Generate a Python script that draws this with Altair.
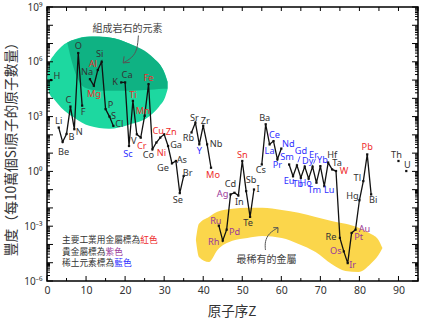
import altair as alt
import pandas as pd

# ---------------- data ----------------
atomic_number = [1, 3, 4, 5, 6, 7, 8, 9, 11, 12, 13, 14, 15, 16, 17, 19, 20, 21, 22, 23,
                 24, 25, 26, 27, 28, 29, 30, 31, 32, 33, 34, 35, 37, 38, 39, 40, 41, 42,
                 44, 45, 46, 47, 48, 49, 50, 51, 52, 53, 55, 56, 57, 58, 59, 60, 62, 63,
                 64, 65, 66, 67, 68, 69, 70, 71, 72, 73, 74, 75, 76, 77, 78, 79, 80, 81,
                 82, 83, 90, 92]
symbol = ["H", "Li", "Be", "B", "C", "N", "O", "F", "Na", "Mg", "Al", "Si", "P", "S", "Cl",
          "K", "Ca", "Sc", "Ti", "V", "Cr", "Mn", "Fe", "Co", "Ni", "Cu", "Zn", "Ga", "Ge",
          "As", "Se", "Br", "Rb", "Sr", "Y", "Zr", "Nb", "Mo", "Ru", "Rh", "Pd", "Ag", "Cd",
          "In", "Sn", "Sb", "Te", "I", "Cs", "Ba", "La", "Ce", "Pr", "Nd", "Sm", "Eu", "Gd",
          "Tb", "Dy", "Ho", "Er", "Tm", "Yb", "Lu", "Hf", "Ta", "W", "Re", "Os", "Ir", "Pt",
          "Au", "Hg", "Tl", "Pb", "Bi", "Th", "U"]
# log10 of atoms per 10^6 Si atoms
log_abundance = [5.00, 2.40, 1.61, 2.05, 3.55, 2.31, 6.48, 3.60, 5.05, 4.69, 5.55, 6.00,
                 3.41, 3.00, 2.49, 4.87, 4.87, 1.39, 3.86, 2.03, 1.85, 3.04, 4.78, 1.21,
                 1.58, 1.85, 2.03, 1.39, 0.44, 0.57, -1.19, -0.25, 2.13, 2.67, 1.48, 2.50,
                 1.48, 0.20, -2.97, -3.79, -3.19, -1.26, -1.17, -1.32, 0.57, -1.08, -2.49,
                 -0.99, 0.38, 2.58, 1.48, 1.66, 0.66, 1.25, 0.38, -0.26, 0.33, -0.35, 0.26,
                 -0.40, 0.26, -0.62, 0.29, -0.81, 0.48, 0.11, 0.02, -3.64, -4.38, -5.02,
                 -3.37, -3.19, -1.58, -0.53, 0.93, -1.26, 0.57, 0.02]

industrial_metals = ["Mg", "Al", "Ti", "Cr", "Mn", "Fe", "Ni", "Cu", "Zn", "Mo", "Sn", "W", "Pb"]
precious_metals = ["Ru", "Rh", "Pd", "Ag", "Os", "Ir", "Pt", "Au"]
rare_earths = ["Sc", "Y", "La", "Ce", "Pr", "Nd", "Sm", "Eu", "Gd", "Tb", "Dy", "Ho", "Er",
               "Tm", "Yb", "Lu"]

# label placement offsets (pixels) relative to each point
label_dx = [6, 0, 1, 5, -2, 5, 0, 1, -3, 0, -5, -2, 5, 4, 6, -6, 2, -1, 0, -3, 1, -2, 0, -4,
            5, -2, 7, 8, -9, 6, -2, 4, -3, -1, 0, 2, 9, 2, -3, -9, 8, -8, -4, 1, 0, 5, -2,
            4, -1, -1, 0, 1, 0, 7, -2, -4, 4, -3, 3, -3, 1, -2, 2, 5, 4, 5, 8, -9, -8, 5,
            7, 9, -7, -6, 0, 2, -2, 1]
label_dy = [-4, -7, 10, 3, -7, 3, -7, 6, -7, 8, -6, -8, -4, -1, -2, 0, -7, 8, -6, 7, 8, -5,
            -6, 6, 10, -7, -2, -1, 5, -1, 7, -3, 6, -5, 7, -5, 0, 7, -5, 1, 2, 0, -9, 6, -6,
            -11, 6, 0, 6, -6, 7, -6, 6, -5, -7, 5, -14, 6, -6, 4, -12, 7, -6, 4, -8, -6, 0,
            -1, 0, 2, 4, -1, -4, -3, -7, 6, -6, -6]

# short leader strokes for crowded labels: symbol, (dx0, dy0) -> (dx1, dy1) in pixels
leaders = [("Gd", 1, -3, 3, -9), ("Er", 1, -3, 3, -8)]

# decorative regions (Z, log10 top, log10 bottom)
rock_z = [0.08, 0.59, 1.86, 3.65, 6.97, 10.80, 15.91, 21.02, 26.13, 28.68, 30.22, 30.86]
rock_top = [5.13, 5.90, 6.40, 6.83, 7.22, 7.38, 7.33, 7.00, 6.34, 5.90, 5.35, 4.91]
rock_bot = [5.13, 4.26, 3.93, 3.49, 2.94, 2.50, 2.34, 2.56, 3.00, 3.54, 4.04, 4.48]
major_z = [5.19, 6.21, 7.74, 9.78, 13.36, 21.02, 27.41, 29.71, 30.86]
major_top = [7.05, 7.16, 7.25, 7.36, 7.38, 7.00, 6.18, 5.57, 4.91]
major_bot = [7.05, 6.12, 5.13, 4.58, 4.42, 4.42, 4.48, 4.53, 4.53]
rare_z = [38.13, 38.90, 41.46, 43.65, 47.48, 51.31, 55.14, 60.12, 64.42, 68.77, 72.87,
          76.44, 79.77, 82.84, 84.88, 85.90]
rare_top = [-3.75, -2.87, -2.49, -2.21, -2.05, -1.99, -1.99, -2.11, -2.27, -2.49, -2.71,
            -2.87, -3.09, -3.42, -3.75, -4.20]
rare_bot = [-3.75, -4.68, -4.96, -4.30, -3.80, -3.64, -3.53, -3.64, -3.97, -4.41, -5.07,
            -5.45, -5.51, -5.07, -4.58, -4.20]

# annotation arrows (Z, log10)
arrow1_z = [23.40, 23.14, 21.86, 19.49]
arrow1_log = [7.44, 6.67, 6.22, 5.94]
head1_z = [19.75, 19.49, 21.20]
head1_log = [6.30, 5.94, 5.97]
arrow2_z = [55.94, 55.76, 56.78, 59.16]
arrow2_log = [-4.30, -3.85, -3.38, -3.08]
head2_z = [57.93, 59.16, 59.08]
head2_log = [-3.08, -3.08, -3.37]

x_ticks_major = [0, 10, 20, 30, 40, 50, 60, 70, 80, 90]
x_ticks_minor = [5, 15, 25, 35, 45, 55, 65, 75, 85, 95]
y_tick_exponents = list(range(-6, 10))
y_label_exponents = [-6, -3, 0, 3, 6, 9]

# ---------------- build tables ----------------
W, H = 371, 274
PX_PER_Z = W / 95.0
PX_PER_DEC = H / 15.0

RED, PURPLE, BLUE, DARK = "#ee2c2c", "#9a3a9a", "#2f2fff", "#333333"


def label_color(s):
    if s in industrial_metals:
        return RED
    if s in precious_metals:
        return PURPLE
    if s in rare_earths:
        return BLUE
    return DARK


seg, cur = [], 0
for i, z in enumerate(atomic_number):
    if i > 0 and z - atomic_number[i - 1] > 1:
        cur += 1
    seg.append(cur)

df = pd.DataFrame({
    "Z": atomic_number,
    "sym": symbol,
    "ab": [10.0 ** v for v in log_abundance],
    "seg": seg,
    "col": [label_color(s) for s in symbol],
    "lx": [z + dx / PX_PER_Z for z, dx in zip(atomic_number, label_dx)],
    "ly": [10.0 ** (v - dy / PX_PER_DEC) for v, dy in zip(log_abundance, label_dy)],
})

lead_rows = []
for k, (s, dx0, dy0, dx1, dy1) in enumerate(leaders):
    j = symbol.index(s)
    z, v = atomic_number[j], log_abundance[j]
    lead_rows.append({"g": k, "i": 0, "Z": z + dx0 / PX_PER_Z, "v": 10.0 ** (v - dy0 / PX_PER_DEC),
                      "col": label_color(s)})
    lead_rows.append({"g": k, "i": 1, "Z": z + dx1 / PX_PER_Z, "v": 10.0 ** (v - dy1 / PX_PER_DEC),
                      "col": label_color(s)})
lead_df = pd.DataFrame(lead_rows)


def region(zs, tops, bots):
    return pd.DataFrame({"Z": zs, "top": [10.0 ** v for v in tops],
                         "bot": [10.0 ** v for v in bots]})


def path(zs, logs):
    return pd.DataFrame({"Z": zs, "v": [10.0 ** v for v in logs], "i": list(range(len(zs)))})


FONT = "Noto Sans"
CJK = "Noto Sans CJK TC"

xs = alt.Scale(domain=[0, 95], nice=False, zero=False)
ys = alt.Scale(type="log", domain=[1e-6, 1e9], nice=False)
xax = alt.Axis(values=x_ticks_major, ticks=False, domain=False, grid=False,
               labelFontSize=10.5, labelColor="#333333", labelFont=FONT,
               labelPadding=4, labelFlush=False, title=None)
yax = alt.Axis(values=[10.0 ** e for e in y_label_exponents], ticks=False,
               domain=False, grid=False, labelFontSize=10, labelColor="#333333",
               labelFont=FONT, labelPadding=5, labelFlush=False,
               labelOverlap=False, title=None,
               labelExpr="datum.value < 1e-5 ? '10⁻⁶' : datum.value < 1e-2 ? '10⁻³' : "
                         "datum.value < 10 ? '10⁰' : datum.value < 1e4 ? '10³' : "
                         "datum.value < 1e7 ? '10⁶' : '10⁹'")


def X(f):
    return alt.X(f, scale=xs, axis=xax)


def Y(f):
    return alt.Y(f, scale=ys, axis=yax)


# ---------------- layers ----------------
def area_layer(d, color):
    return alt.Chart(d).mark_area(color=color, interpolate="monotone", opacity=1).encode(
        x=X("Z:Q"), y=Y("top:Q"), y2="bot:Q")


green = area_layer(region(rock_z, rock_top, rock_bot), "#1dd8a0")
dgreen = area_layer(region(major_z, major_top, major_bot), "#0fb283")
yellow = area_layer(region(rare_z, rare_top, rare_bot), "#fbd64b")


def arrow_layer(d, interp):
    return alt.Chart(d).mark_line(color="#555555", strokeWidth=1, interpolate=interp).encode(
        x=X("Z:Q"), y=Y("v:Q"), order="i:O")


arr1 = arrow_layer(path(arrow1_z, arrow1_log), "basis")
hd1 = arrow_layer(path(head1_z, head1_log), "linear")
arr2 = arrow_layer(path(arrow2_z, arrow2_log), "basis")
hd2 = arrow_layer(path(head2_z, head2_log), "linear")

line = alt.Chart(df).mark_line(color="#111111", strokeWidth=1.3).encode(
    x=X("Z:Q"), y=Y("ab:Q"), detail="seg:N")

pts = alt.Chart(df).mark_square(color="#111111", size=5, opacity=1).encode(
    x=X("Z:Q"), y=Y("ab:Q"))

labels = alt.Chart(df).mark_text(font=FONT, fontSize=9.2, align="center",
                                 baseline="middle").encode(
    x=X("lx:Q"), y=Y("ly:Q"), text="sym:N", color=alt.Color("col:N", scale=None))

lead = alt.Chart(lead_df).mark_line(strokeWidth=0.8).encode(
    x=X("Z:Q"), y=Y("v:Q"), detail="g:N", order="i:O",
    color=alt.Color("col:N", scale=None))

# inward ticks on all four sides
ymaj = pd.DataFrame({"v": [10.0 ** e for e in y_tick_exponents]})
ymin = pd.DataFrame({"v": [m * 10.0 ** e for e in y_tick_exponents[:-1] for m in range(2, 10)]})
xmaj = pd.DataFrame({"v": x_ticks_major})
xmin = pd.DataFrame({"v": x_ticks_minor})


def yt(d, x0, x1):
    return alt.Chart(d).mark_rule(color="black", strokeWidth=1).encode(
        y=Y("v:Q"), x=alt.value(x0), x2=alt.value(x1))


def xt(d, y0, y1):
    return alt.Chart(d).mark_rule(color="black", strokeWidth=1).encode(
        x=X("v:Q"), y=alt.value(y0), y2=alt.value(y1))


ticks = [yt(ymaj, 0, 6), yt(ymin, 0, 3), yt(ymaj, W - 6, W), yt(ymin, W - 3, W),
         xt(xmaj, H - 5, H), xt(xmin, H - 3, H), xt(xmaj, 0, 4), xt(xmin, 0, 4)]


def txt(t, x, y, size, color="#333333", font=CJK, align="center", angle=0):
    return alt.Chart(pd.DataFrame({"t": [t]})).mark_text(
        font=font, fontSize=size, color=color, align=align, baseline="middle",
        angle=angle).encode(text="t:N", x=alt.value(x), y=alt.value(y))


LF = 8.7
annots = [
    txt("組成岩石的元素", 80.5, 22, 10, "#444444"),
    txt("最稀有的金屬", 219.5, 253, 10, "#444444"),
    txt("主要工業用金屬標為", 15, 232.7, LF, align="left"),
    txt("紅色", 15 + 9 * LF, 232.7, LF, RED, align="left"),
    txt("貴金屬標為", 15, 244.7, LF, align="left"),
    txt("紫色", 15 + 5 * LF, 244.7, LF, PURPLE, align="left"),
    txt("稀土元素標為", 15, 256, LF, align="left"),
    txt("藍色", 15 + 6 * LF, 256, LF, BLUE, align="left"),
    txt("原子序Z", 185, 305, 13.5),
    txt("豐度（每10萬個Si原子的原子數量）", -35.5, 139, 13.8, angle=270),
]

chart = alt.layer(
    green, dgreen, yellow, arr1, hd1, arr2, hd2, line, pts, lead, labels, *ticks, *annots
).properties(
    width=W, height=H,
    autosize=alt.AutoSizeParams(type="none"),
    padding={"left": 47, "top": 7, "right": 21, "bottom": 47},
).configure_view(stroke="black", strokeWidth=1.5)

chart.save("out.html", embed_options={"renderer": "svg", "actions": False})
